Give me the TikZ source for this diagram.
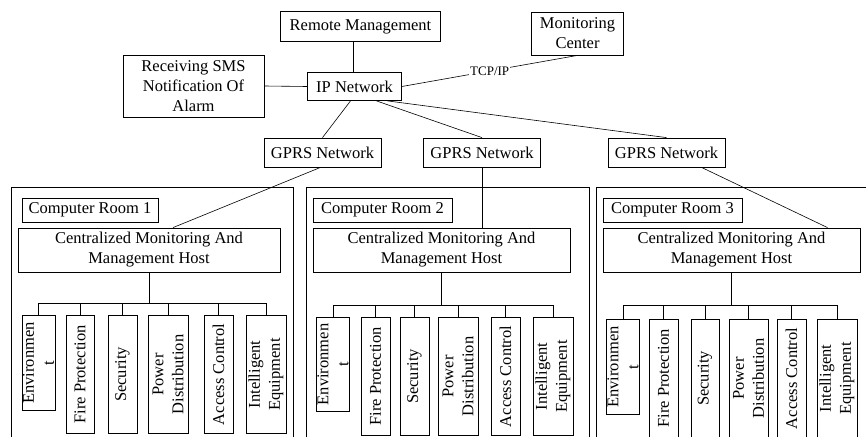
\documentclass[tikz,border=0pt]{standalone}
\usepackage{fontspec}
\setmainfont{Liberation Serif}

\tikzset{
	box/.style = {draw, line width = 0.8pt, inner sep = 1pt, align = center, font = \fontsize{16.5}{20}\selectfont},
	leaf/.style = {box, rotate = 90, anchor = east, minimum width = 118, minimum height = 29},
	room/.style = {draw, line width = 0.8pt, anchor = north west, minimum height = 280},
	link/.style = {line width = 0.6pt},
}

\begin{document}
\begin{tikzpicture}[x = 1pt, y = -1pt]
	\useasboundingbox (0,0) rectangle (866,436);
	\clip (0,0) rectangle (866,436);

	% network part
	\node (rm)[box, minimum width = 160, minimum height = 30] at (360.5,26.5) {Remote Management};
	\node (mc)[box, minimum width = 92, minimum height = 43] at (577.5,33.5) {Monitoring\\Center};
	\node (sms)[box, minimum width = 141, minimum height = 62] at (193.5,86) {Receiving SMS\\Notification Of\\Alarm};
	\node (ip)[box, minimum width = 94, minimum height = 28] at (354.5,86.5) {IP Network};
	\node (g1)[box, minimum width = 117, minimum height = 29] at (322.5,152.5) {GPRS Network};
	\node (g2)[box, minimum width = 117, minimum height = 29] at (482,152.5) {GPRS Network};
	\node (g3)[box, minimum width = 117, minimum height = 29] at (666.5,152.5) {GPRS Network};

	\draw [link](ip.north -| 353,0) -- (rm.south -| 353,0);
	\draw [link](sms.east) -- (ip.west);
	\draw [link](ip.east) -- node[fill = white, inner sep = 1pt, font = \fontsize{13}{15}\selectfont]{TCP/IP} (mc.south);
	\draw [link]([xshift = -4pt]ip.south) -- (g1.north);
	\draw [link]([xshift = 22pt]ip.south) -- (g2.north);
	\draw [link]([xshift = 33pt]ip.south) -- (g3.north);

	% computer rooms
	\node (r1)[room, minimum width = 282] at (11,187) {};
	\node (r2)[room, minimum width = 283] at (306,187) {};
	\node (r3)[room, minimum width = 300] at (596,187) {};

	\node (c1)[box, minimum width = 136, minimum height = 24] at (90,210) {Computer Room 1};
	\node (c2)[box, minimum width = 139, minimum height = 24] at (382.5,210) {Computer Room 2};
	\node (c3)[box, minimum width = 139, minimum height = 24] at (672.5,210) {Computer Room 3};

	\node (h1)[box, minimum width = 262, minimum height = 44] at (149,250) {Centralized Monitoring And\\Management Host};
	\node (h2)[box, minimum width = 257, minimum height = 44] at (441.5,250) {Centralized Monitoring And\\Management Host};
	\node (h3)[box, minimum width = 257, minimum height = 44] at (731.5,250) {Centralized Monitoring And\\Management Host};

	\draw [link]([xshift = -2pt]g1.south) -- ([xshift = 24pt]h1.north);
	\draw [link](g2.south) -- (g2.south |- h2.north);
	\draw [link]([xshift = 35pt]g3.south) -- ([xshift = 96pt]h3.north);

	% room 1 equipment
	\node (r1e)[leaf, minimum width = 95, minimum height = 31] at (38.5,315) {Environmen\\t};
	\node (r1f)[leaf, minimum height = 28] at (80,315) {Fire Protection};
	\node (r1s)[leaf] at (122.5,315) {Security};
	\node (r1p)[leaf, minimum height = 40] at (168,315) {Power\\Distribution};
	\node (r1a)[leaf] at (218.5,315) {Access Control};
	\node (r1i)[leaf, minimum height = 40] at (266,315) {Intelligent\\Equipment};

	% room 2 equipment
	\node (r2e)[leaf, minimum width = 94, minimum height = 32] at (333,317) {Environmen\\t};
	\node (r2f)[leaf] at (375.5,317) {Fire Protection};
	\node (r2s)[leaf] at (414.5,317) {Security};
	\node (r2p)[leaf, minimum height = 40] at (458,317) {Power\\Distribution};
	\node (r2a)[leaf] at (505.5,317) {Access Control};
	\node (r2i)[leaf, minimum height = 40] at (553,317) {Intelligent\\Equipment};

	% room 3 equipment
	\node (r3e)[leaf, minimum width = 95, minimum height = 32] at (623,319) {Environmen\\t};
	\node (r3f)[leaf] at (663.5,319) {Fire Protection};
	\node (r3s)[leaf, minimum height = 28] at (705,319) {Security};
	\node (r3p)[leaf, minimum height = 39] at (748.5,319) {Power\\Distribution};
	\node (r3a)[leaf] at (791.5,319) {Access Control};
	\node (r3i)[leaf, minimum height = 40] at (837,319) {Intelligent\\Equipment};

	% host to equipment trees
	\coordinate (b1) at (h1.south |- 0,303.5);
	\coordinate (b2) at (h2.south |- 0,305);
	\coordinate (b3) at (h3.south |- 0,305);
	\foreach \r in {1,2,3}{
		\draw [link](h\r.south) -- (b\r);
		\foreach \n in {e,f,s,p,a,i}
			\draw [link](b\r) -| (r\r\n.east);
	}
\end{tikzpicture}
\end{document}
